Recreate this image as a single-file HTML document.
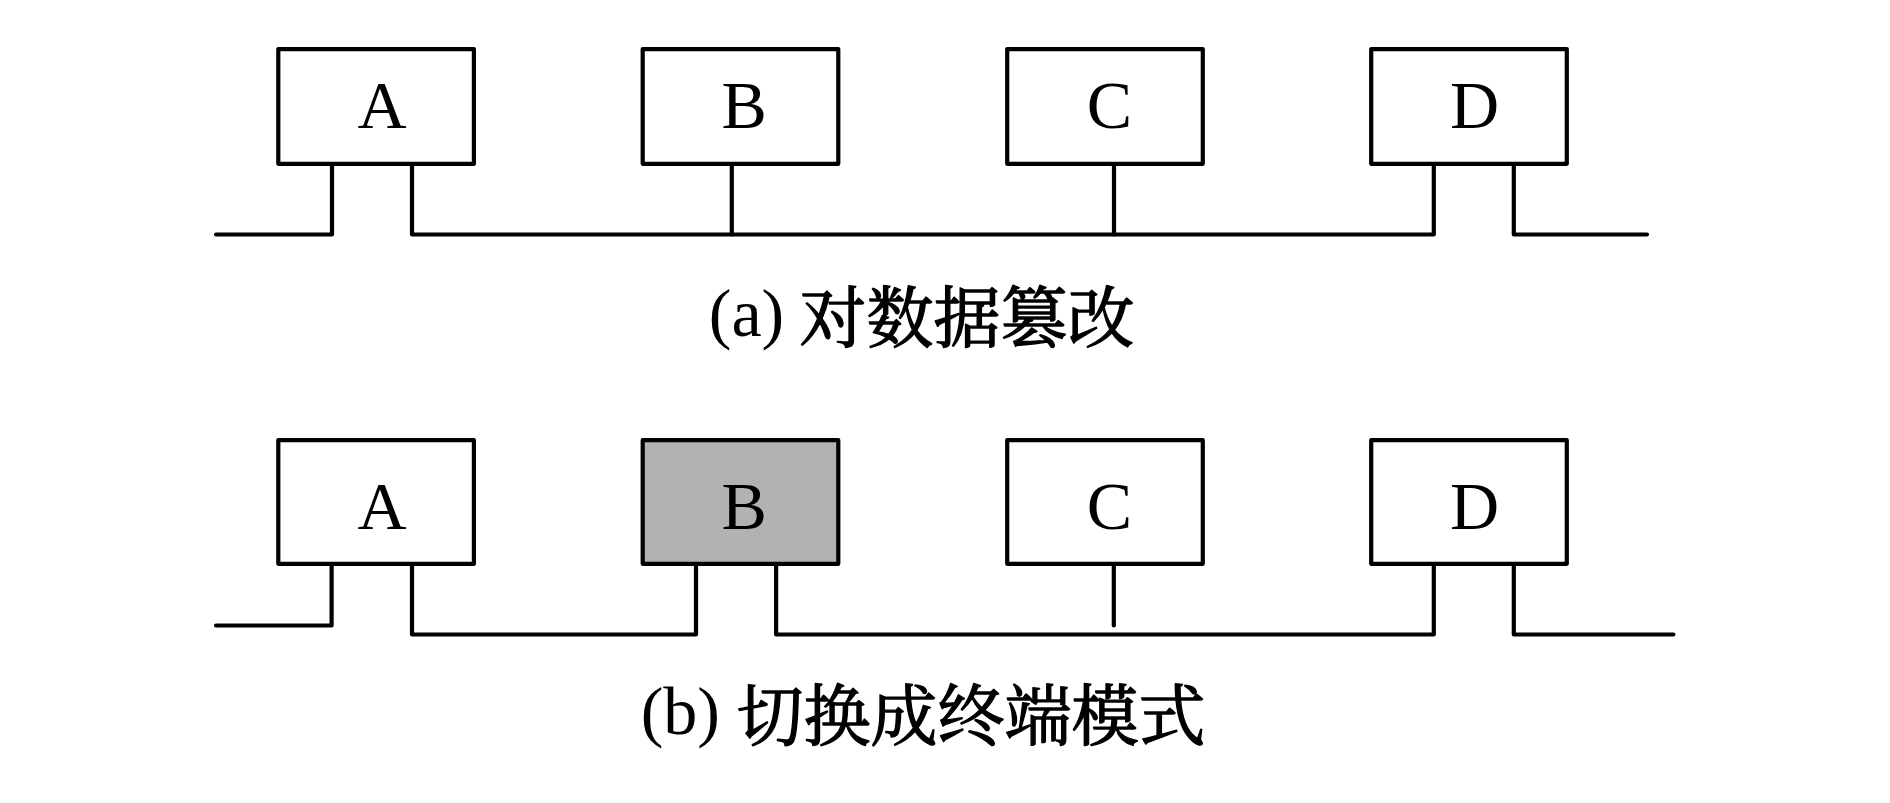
<!DOCTYPE html>
<html lang="zh-CN">
<head>
<meta charset="utf-8">
<title>总线网络示意图</title>
<style>
  html, body { margin: 0; padding: 0; background: #ffffff; }
  body { width: 1890px; height: 803px; overflow: hidden; }
  svg { display: block; }
  .ln { fill: none; stroke: #000; stroke-width: 4.2; stroke-linecap: round; stroke-linejoin: round; }
  .bx { fill: #ffffff; stroke: #000; stroke-width: 4.2; stroke-linejoin: round; }
  .gx { fill: #b2b2b2; stroke: #000; stroke-width: 4.2; stroke-linejoin: round; }
  .lt { font-family: "Liberation Serif", "Noto Serif CJK SC", serif; font-size: 68px; fill: #000; }
  .cj { font-family: "Liberation Serif", "Noto Serif CJK SC", serif; font-size: 67px; fill: #000; stroke: #000; stroke-width: 1.35px; stroke-linejoin: round; }
</style>
</head>
<body>
<svg width="1890" height="803" viewBox="0 0 1890 803">
  <rect x="0" y="0" width="1890" height="803" fill="#ffffff"/>

  <!-- ===== Row 1 (a) ===== -->
  <!-- bus segments -->
  <polyline class="ln" points="216,234.5 332,234.5 332,164"/>
  <polyline class="ln" points="412,164 412,234.5 1433.8,234.5 1433.8,164"/>
  <polyline class="ln" points="1513.8,164 1513.8,234.5 1647,234.5"/>
  <line class="ln" x1="731.8" y1="164" x2="731.8" y2="234.5"/>
  <line class="ln" x1="1114" y1="164" x2="1114" y2="234.5"/>
  <!-- boxes -->
  <rect class="bx" x="278.3" y="49.1" width="195.6" height="114.7"/>
  <rect class="bx" x="642.7" y="49.1" width="195.6" height="114.7"/>
  <rect class="bx" x="1007.2" y="49.1" width="195.6" height="114.7"/>
  <rect class="bx" x="1371.2" y="49.1" width="195.6" height="114.7"/>
  <!-- labels -->
  <text class="lt" x="357.5" y="128.3">A</text>
  <text class="lt" x="721.6" y="128.3">B</text>
  <text class="lt" x="1086.8" y="128.3">C</text>
  <text class="lt" x="1450.0" y="128.3">D</text>
  <!-- caption -->
  <text class="lt" x="708.8" y="336">(a)</text>
  <text class="cj" x="799.6" y="341.5">对数据篡改</text>

  <!-- ===== Row 2 (b) ===== -->
  <polyline class="ln" points="216,625.5 331.6,625.5 331.6,564"/>
  <polyline class="ln" points="412,564 412,634.5 696,634.5 696,564"/>
  <polyline class="ln" points="776.1,564 776.1,634.5 1433.8,634.5 1433.8,564"/>
  <polyline class="ln" points="1513.8,564 1513.8,634.5 1673.4,634.5"/>
  <line class="ln" x1="1113.8" y1="564" x2="1113.8" y2="625.5"/>
  <rect class="bx" x="278.3" y="440.2" width="195.6" height="123.6"/>
  <rect class="gx" x="642.7" y="440.2" width="195.6" height="123.6"/>
  <rect class="bx" x="1007.2" y="440.2" width="195.6" height="123.6"/>
  <rect class="bx" x="1371.2" y="440.2" width="195.6" height="123.6"/>
  <text class="lt" x="357.5" y="528.8">A</text>
  <text class="lt" x="721.6" y="528.8">B</text>
  <text class="lt" x="1086.8" y="528.8">C</text>
  <text class="lt" x="1450.0" y="528.8">D</text>
  <text class="lt" x="640.7" y="734">(b)</text>
  <text class="cj" x="736.5" y="739.5">切换成终端模式</text>
</svg>
</body>
</html>
